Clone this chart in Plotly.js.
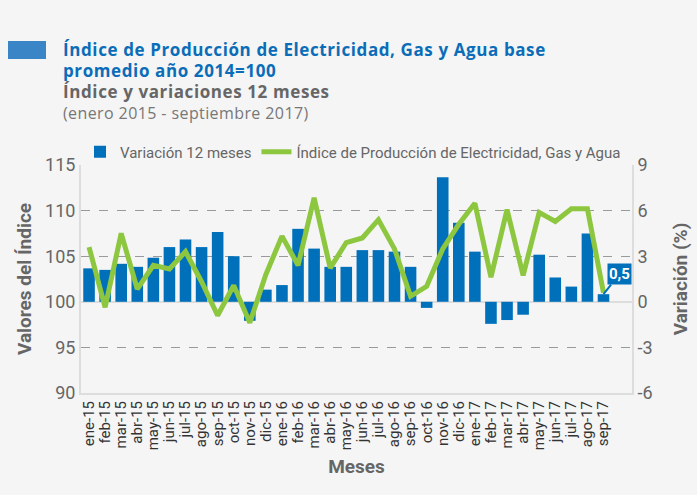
<!DOCTYPE html>
<html>
<head>
<meta charset="utf-8">
<script src="https://cdn.plot.ly/plotly-3.0.1.min.js"></script>
<style>
html,body{margin:0;padding:0;background:#f5f5f5;}
#chart{width:697px;height:495px;}
</style>
</head>
<body>
<div id="chart"></div>
<script>
const months = ["ene-15","feb-15","mar-15","abr-15","may-15","jun-15","jul-15","ago-15","sep-15","oct-15","nov-15","dic-15",
"ene-16","feb-16","mar-16","abr-16","may-16","jun-16","jul-16","ago-16","sep-16","oct-16","nov-16","dic-16",
"ene-17","feb-17","mar-17","abr-17","may-17","jun-17","jul-17","ago-17","sep-17"];
const variacion = [2.2,2.1,2.5,2.3,2.9,3.6,4.1,3.6,4.6,3.0,-1.25,0.8,
1.1,4.8,3.5,2.3,2.3,3.4,3.4,3.3,2.3,-0.4,8.2,5.2,
3.3,-1.45,-1.2,-0.85,3.1,1.6,1.0,4.5,0.5];
const indice = [106.0,99.4,107.5,101.4,104.0,103.6,105.5,102.2,98.5,101.8,97.7,103.0,
107.2,104.0,111.4,103.7,106.5,107.0,109.0,105.8,100.6,101.7,105.8,108.5,
110.8,102.7,110.1,102.9,109.8,108.8,110.2,110.2,101.0];
const leftTicks = [90,95,100,105,110,115];
const rightTicks = [-6,-3,0,3,6,9];

const grey = '#666666';
const font = 'Roboto, "Noto Sans", sans-serif';

const traces = [
  {type:'bar', x:months, y:variacion, name:'Variación 12 meses', yaxis:'y',
   marker:{color:'#0070bb'}, hoverinfo:'skip'},
  {type:'scatter', mode:'lines', x:months, y:indice, name:'Índice de Producción de Electricidad, Gas y Agua',
   yaxis:'y2', line:{color:'#8dc63f', width:5}, hoverinfo:'skip'}
];

const px = (p)=> (p-81)/551;
const py = (p)=> (393-p)/228;

const titleText =
  '<span style="font-size:17px;color:#0b6db8;letter-spacing:0.6px"><b>Índice de Producción de Electricidad, Gas y Agua base</b></span><br>' +
  '<span style="font-size:17px;color:#0b6db8;letter-spacing:0.6px"><b>promedio año 2014=100</b></span><br>' +
  '<span style="font-size:17px;color:#666666;letter-spacing:0.6px"><b>Índice y variaciones 12 meses</b></span><br>' +
  '<span style="font-size:16px;color:#777777;letter-spacing:0.4px">(enero 2015 - septiembre 2017)</span>';

const layout = {
  width:697, height:495,
  paper_bgcolor:'#f5f5f5', plot_bgcolor:'#f5f5f5',
  margin:{l:81, r:65, t:165, b:102},
  font:{family:font, color:grey},
  showlegend:true,
  bargap:0.28,
  legend:{orientation:'h', x:px(80), xanchor:'left', y:py(152), yanchor:'middle',
          font:{size:15, color:grey}, bgcolor:'rgba(0,0,0,0)', itemwidth:30},
  xaxis:{type:'category', tickangle:-90, tickfont:{size:15, color:'#333'},
         tickmode:'array', tickvals:months, ticktext:months,
         showline:true, linecolor:'#dddddd', linewidth:2, ticks:'', showgrid:false,
         title:{text:'<b>Meses</b>', font:{size:19, color:grey}, standoff:10},
         mirror:false},
  yaxis:{side:'right', range:[-6,9], tickvals:rightTicks, ticktext:rightTicks.map(String),
         tickfont:{size:18, color:grey}, showgrid:true, gridcolor:'#9a9a9a', griddash:'dash', gridwidth:1,
         zeroline:true, zerolinecolor:'#dddddd', zerolinewidth:2,
         showline:true, linecolor:'#dddddd', linewidth:2, ticks:'',
         title:{text:'<b>Variación (%)</b>', font:{size:19, color:grey}, standoff:22}},
  yaxis2:{side:'left', overlaying:'y', range:[90,115], tickvals:leftTicks, ticktext:leftTicks.map(String),
          tickfont:{size:18, color:grey}, showgrid:false, zeroline:false,
          showline:true, linecolor:'#dddddd', linewidth:2, ticks:'',
          title:{text:'<b>Valores del Índice</b>', font:{size:19, color:grey}, standoff:8}},
  shapes:[
    {type:'rect', xref:'paper', yref:'paper', x0:px(8), x1:px(46), y0:py(59), y1:py(41),
     fillcolor:'#3a85c6', line:{width:0}}
  ],
  annotations:[
    {xref:'paper', yref:'paper', x:px(61), y:py(36), xanchor:'left', yanchor:'top', showarrow:false,
     align:'left', text:titleText, font:{size:16.2, color:'#777777', family:'"Open Sans", sans-serif'}},
    {xref:'x', yref:'y', x:months[months.length-1], y:variacion[variacion.length-1],
     text:'<b>0,5</b>', showarrow:true, arrowhead:0, arrowwidth:2, arrowcolor:'#0070bb',
     ax:16, ay:-20, bgcolor:'#0070bb', font:{size:15, color:'#ffffff'}, borderpad:1}
  ]
};

Plotly.newPlot('chart', traces, layout, {displayModeBar:false, staticPlot:true});
</script>
</body>
</html>
